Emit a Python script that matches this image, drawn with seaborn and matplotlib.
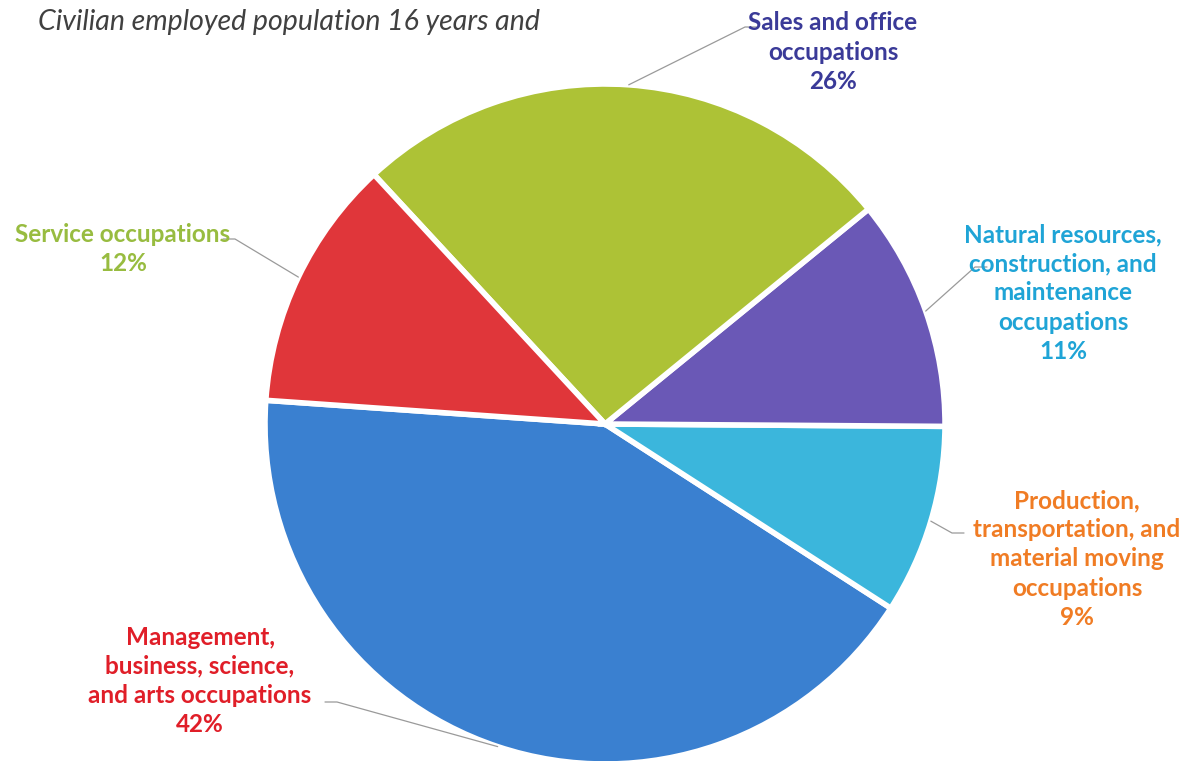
import numpy as np
import matplotlib.pyplot as plt
import seaborn as sns

# occupation shares, counterclockwise from the left edge of the pie
labels = ['Management,\nbusiness, science,\nand arts occupations',
          'Production,\ntransportation, and\nmaterial moving\noccupations',
          'Natural resources,\nconstruction, and\nmaintenance\noccupations',
          'Sales and office\noccupations',
          'Service occupations']
shares = [42, 9, 11, 26, 12]
wedge_colors = ['#3a80d0', '#3bb6dc', '#6a58b6', '#adc236', '#e0363a']
label_colors = ['#e01e28', '#f07c24', '#1fa4d6', '#3a3a98', '#98bc40']

# label text centres and elbow points (pixels, image coords)
label_xy = [(200, 681), (1077, 559), (1063, 293), (833, 52), (123, 249)]
elbow_xy = [(337, 702), (952, 533), (975, 267), (745, 27), (235, 239)]

W, H = 1191, 761
sns.set_theme(style='white')
plt.rcParams['font.family'] = ['Lato', 'DejaVu Sans']

fig = plt.figure(figsize=(W / 100, H / 100), dpi=100)
ax = fig.add_axes([0, 0, 1, 1])

cx, cy, r = 605, H - 424, 340
wedges, _ = ax.pie(shares, colors=wedge_colors, startangle=176, counterclock=True,
                   center=(cx, cy), radius=r, frame=True,
                   wedgeprops=dict(edgecolor='white', linewidth=4))
ax.set_xlim(0, W)
ax.set_ylim(0, H)
ax.set_aspect('equal')
ax.axis('off')

for w, lab, val, col, (lx, ly), (ex, ey) in zip(wedges, labels, shares, label_colors,
                                                label_xy, elbow_xy):
    mid = np.deg2rad((w.theta1 + w.theta2) / 2)
    px, py = cx + r * np.cos(mid), cy + r * np.sin(mid)
    ax.plot([px, ex, ex + (12 if ex < lx else -12)], [py, H - ey, H - ey],
            color='#9a9a9a', lw=0.9, zorder=3)
    ax.text(lx, H - ly, f'{lab}\n{val}%', ha='center', va='center', color=col,
            fontsize=17.5, fontweight='bold', linespacing=1.33, zorder=4)

ax.text(38, H - 22, 'Civilian employed population 16 years and', ha='left', va='center',
        fontsize=20.5, style='italic', color='#404040')

fig.savefig('out.png', dpi=100)
